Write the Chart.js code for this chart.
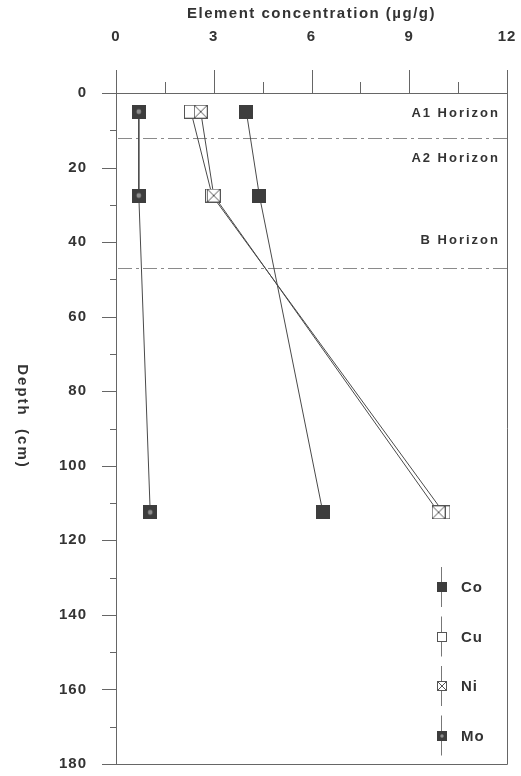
<!DOCTYPE html>
<html>
<head>
<meta charset="utf-8">
<script src="https://cdn.jsdelivr.net/npm/chart.js@4/dist/chart.umd.min.js"></script>
<style>
  html, body { margin: 0; padding: 0; background: #fff; }
  canvas { display: block; }
</style>
</head>
<body>
<canvas id="profile" width="521" height="776"></canvas>
<script>
// Soil profile: element concentration (µg/g) against sampling depth (cm)
const depthCm    = [5, 27.5, 112.5];
const cobalt     = [4.0, 4.4, 6.35];
const copper     = [2.3, 2.95, 10.05];
const nickel     = [2.6, 3.0, 9.9];
const molybdenum = [0.7, 0.7, 1.05];

const elementNames = ['Co', 'Cu', 'Ni', 'Mo'];
const concLabels   = [0, 3, 6, 9, 12];
const depthLabels  = [0, 20, 40, 60, 80, 100, 120, 140, 160, 180];

// Horizon boundaries and the depths at which their names are written
const horizonBounds      = [12, 47];
const horizonNames       = ['A1 Horizon', 'A2 Horizon', 'B Horizon'];
const horizonNameDepths  = [5.5, 17.5, 39.5];

const INK = '#333333';
const AXIS = '#666666';
const FONT = '"Liberation Sans", Arial, sans-serif';

function marker(kind, s) {
  const c = document.createElement('canvas');
  c.width = s; c.height = s;
  const g = c.getContext('2d');
  if (kind === 'Co' || kind === 'Mo') {
    g.fillStyle = '#3d3d3d';
    g.fillRect(0, 0, s, s);
  }
  if (kind === 'Mo') {
    g.fillStyle = '#8e8e8e';
    g.beginPath();
    g.arc(s / 2, s / 2, s * 0.17, 0, Math.PI * 2);
    g.fill();
  }
  if (kind === 'Cu' || kind === 'Ni') {
    g.fillStyle = '#ffffff';
    g.fillRect(0, 0, s, s);
    g.strokeStyle = '#555555';
    g.lineWidth = 1;
    g.strokeRect(0.5, 0.5, s - 1, s - 1);
  }
  if (kind === 'Ni') {
    g.beginPath();
    g.moveTo(1, 1); g.lineTo(s - 1, s - 1);
    g.moveTo(s - 1, 1); g.lineTo(1, s - 1);
    g.stroke();
  }
  return c;
}

const seriesValues = { Co: cobalt, Cu: copper, Ni: nickel, Mo: molybdenum };
const drawOrder = { Co: 0, Ni: 1, Cu: 2, Mo: 3 };

const datasets = elementNames.map(name => ({
  label: name,
  data: seriesValues[name].map((v, i) => ({ x: v, y: depthCm[i] })),
  showLine: true,
  borderColor: '#4a4a4a',
  borderWidth: 1,
  pointStyle: marker(name, 14),
  legendIcon: marker(name, 10),
  pointRadius: 7,
  order: drawOrder[name],
  tension: 0
}));

const decorations = {
  id: 'profileDecorations',
  beforeDraw(chart) {
    chart.ctx.letterSpacing = '1px';
  },
  beforeDatasetsDraw(chart) {
    const { ctx, chartArea: a, scales: { y } } = chart;
    ctx.save();
    ctx.strokeStyle = '#8a8a8a';
    ctx.lineWidth = 1;
    ctx.setLineDash([14, 4, 3, 4]);
    horizonBounds.forEach(d => {
      const py = Math.round(y.getPixelForValue(d)) + 0.5;
      ctx.beginPath();
      ctx.moveTo(a.left + 2, py);
      ctx.lineTo(a.right, py);
      ctx.stroke();
    });
    ctx.setLineDash([]);
    ctx.fillStyle = INK;
    ctx.font = 'bold 13px ' + FONT;
    ctx.letterSpacing = '2px';
    ctx.textAlign = 'right';
    ctx.textBaseline = 'middle';
    horizonNames.forEach((t, i) => {
      ctx.fillText(t, a.right - 7, y.getPixelForValue(horizonNameDepths[i]));
    });
    ctx.restore();
  },
  afterDraw(chart) {
    const { ctx, chartArea: a, scales: { x, y } } = chart;
    ctx.save();
    ctx.strokeStyle = AXIS;
    ctx.lineWidth = 1;
    // frame on the right and bottom
    ctx.beginPath();
    ctx.moveTo(Math.round(a.right) + 0.5, a.top);
    ctx.lineTo(Math.round(a.right) + 0.5, Math.round(a.bottom) + 0.5);
    ctx.lineTo(a.left, Math.round(a.bottom) + 0.5);
    ctx.stroke();
    // tick marks on the concentration axis (upward)
    for (let v = 0; v <= 12; v += 1.5) {
      const px = Math.round(x.getPixelForValue(v)) + 0.5;
      const len = concLabels.includes(v) ? 23 : 11;
      ctx.beginPath();
      ctx.moveTo(px, a.top);
      ctx.lineTo(px, a.top - len);
      ctx.stroke();
    }
    // tick marks on the depth axis (leftward)
    for (let v = 0; v <= 180; v += 10) {
      const py = Math.round(y.getPixelForValue(v)) + 0.5;
      const len = depthLabels.includes(v) ? 14 : 6;
      ctx.beginPath();
      ctx.moveTo(a.left, py);
      ctx.lineTo(a.left - len, py);
      ctx.stroke();
    }
    // axis titles
    ctx.fillStyle = INK;
    ctx.font = 'bold 15px ' + FONT;
    ctx.letterSpacing = '1.5px';
    ctx.textAlign = 'center';
    ctx.textBaseline = 'middle';
    ctx.fillText('Element concentration (µg/g)', (a.left + a.right) / 2, 14);
    ctx.save();
    ctx.translate(22, (a.top + a.bottom) / 2 - 12);
    ctx.rotate(Math.PI / 2);
    ctx.letterSpacing = '2px';
    ctx.fillText('Depth  (cm)', 0, 0);
    ctx.restore();
    // legend with vertical line samples
    const lx = a.right - 66;
    const ly0 = a.bottom - 177;
    ctx.font = 'bold 15px ' + FONT;
    ctx.letterSpacing = '1px';
    ctx.textAlign = 'left';
    chart.data.datasets.forEach((ds, i) => {
      const cy = ly0 + i * 49.5;
      ctx.strokeStyle = '#777777';
      ctx.beginPath();
      ctx.moveTo(Math.round(lx) + 0.5, cy - 20);
      ctx.lineTo(Math.round(lx) + 0.5, cy + 20);
      ctx.stroke();
      const ic = ds.legendIcon;
      ctx.drawImage(ic, Math.round(lx - ic.width / 2) + 1, Math.round(cy - ic.height / 2));
      ctx.fillStyle = INK;
      ctx.fillText(ds.label, lx + 20, cy + 1);
    });
    ctx.restore();
  }
};

new Chart(document.getElementById('profile'), {
  type: 'scatter',
  data: { datasets },
  options: {
    responsive: false,
    devicePixelRatio: 1,
    animation: false,
    events: [],
    layout: { padding: { left: 0, right: 14, top: 0, bottom: 12 } },
    plugins: { legend: { display: false }, tooltip: { enabled: false } },
    scales: {
      x: {
        type: 'linear',
        position: 'top',
        min: 0, max: 12,
        afterFit(s) { s.height = 93; s.paddingLeft = 0; s.paddingRight = 0; },
        grid: { drawOnChartArea: false, drawTicks: false },
        border: { display: true, color: AXIS },
        ticks: {
          stepSize: 1.5,
          autoSkip: false,
          maxRotation: 0,
          padding: 47,
          color: INK,
          font: { family: FONT, size: 15, weight: 'bold' },
          callback: v => concLabels.includes(v) ? String(v) : ''
        }
      },
      y: {
        type: 'linear',
        reverse: true,
        min: 0, max: 180,
        afterFit(s) { s.width = 116; s.paddingTop = 0; s.paddingBottom = 0; },
        grid: { drawOnChartArea: false, drawTicks: false },
        border: { display: true, color: AXIS },
        ticks: {
          stepSize: 10,
          autoSkip: false,
          padding: 29,
          color: INK,
          font: { family: FONT, size: 15, weight: 'bold' },
          callback: v => depthLabels.includes(v) ? String(v) : ''
        }
      }
    }
  },
  plugins: [decorations]
});
</script>
</body>
</html>
